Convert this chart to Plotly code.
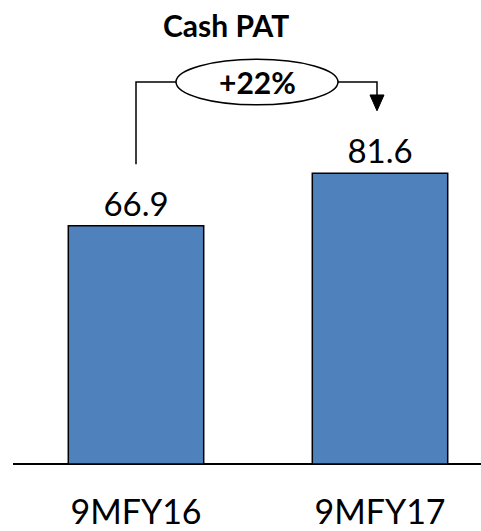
import plotly.graph_objects as go

categories = ["9MFY16", "9MFY17"]
values = [66.9, 81.6]
growth_label = "+22%"
title_text = "Cash PAT"

FONT = "Lato, Carlito, 'Open Sans', sans-serif"
W, H = 481, 531
L, B = 13, 62
PX_PER_UNIT = 3.6
X_UNIT = 244.0
x0_px = 136.0

xr = [(L - x0_px) / X_UNIT, (W - x0_px) / X_UNIT]
yr = [0, (H - B) / PX_PER_UNIT]


def dx(px):
    return (px - x0_px) / X_UNIT


def dy(py):
    return (H - B - py) / PX_PER_UNIT


fig = go.Figure()
fig.add_trace(go.Bar(
    x=[0, 1], y=values,
    width=0.555,
    marker=dict(color="#4F81BD", line=dict(color="#000000", width=1.5)),
    text=[f"{v:.1f}" for v in values],
    textposition="outside",
    textfont=dict(family=FONT, size=33, color="#000000"),
    cliponaxis=False,
    hoverinfo="skip",
))

shapes = []
# bracket left
shapes.append(dict(type="path", xref="x", yref="y",
                   path=f"M {dx(136)} {dy(166)} L {dx(136)} {dy(83)} L {dx(177)} {dy(83)}",
                   line=dict(color="black", width=1.5)))
# bracket right
shapes.append(dict(type="path", xref="x", yref="y",
                   path=f"M {dx(337)} {dy(83)} L {dx(377)} {dy(83)} L {dx(377)} {dy(97)}",
                   line=dict(color="black", width=1.5)))
# arrowhead
shapes.append(dict(type="path", xref="x", yref="y",
                   path=f"M {dx(370)} {dy(96)} L {dx(384)} {dy(96)} L {dx(377)} {dy(112)} Z",
                   fillcolor="black", line=dict(color="black", width=1)))
# ellipse
shapes.append(dict(type="circle", xref="x", yref="y",
                   x0=dx(176), x1=dx(338), y0=dy(106), y1=dy(60),
                   fillcolor="white", line=dict(color="black", width=1.5)))

annotations = [
    dict(x=dx(257), y=dy(83), xref="x", yref="y", text=f"<b>{growth_label}</b>",
         showarrow=False, font=dict(family=FONT, size=30, color="black")),
    dict(x=dx(226), y=dy(25), xref="x", yref="y", text=f"<b>{title_text}</b>",
         showarrow=False, font=dict(family=FONT, size=30, color="black")),
]

fig.update_layout(
    width=W, height=H,
    margin=dict(l=L, r=0, t=0, b=B, pad=0),
    paper_bgcolor="white", plot_bgcolor="white",
    showlegend=False,
    shapes=shapes,
    annotations=annotations,
    xaxis=dict(range=xr, tickmode="array", tickvals=[0, 1], ticktext=categories,
               showgrid=False, zeroline=False, showline=False, ticks="",
               tickfont=dict(family=FONT, size=34, color="black"),
               ticklabelstandoff=25, fixedrange=True),
    yaxis=dict(range=yr, showgrid=False, zeroline=True, zerolinecolor="black",
               zerolinewidth=2, showline=False, showticklabels=False, ticks="",
               fixedrange=True),
)

fig.write_html("out.html")
